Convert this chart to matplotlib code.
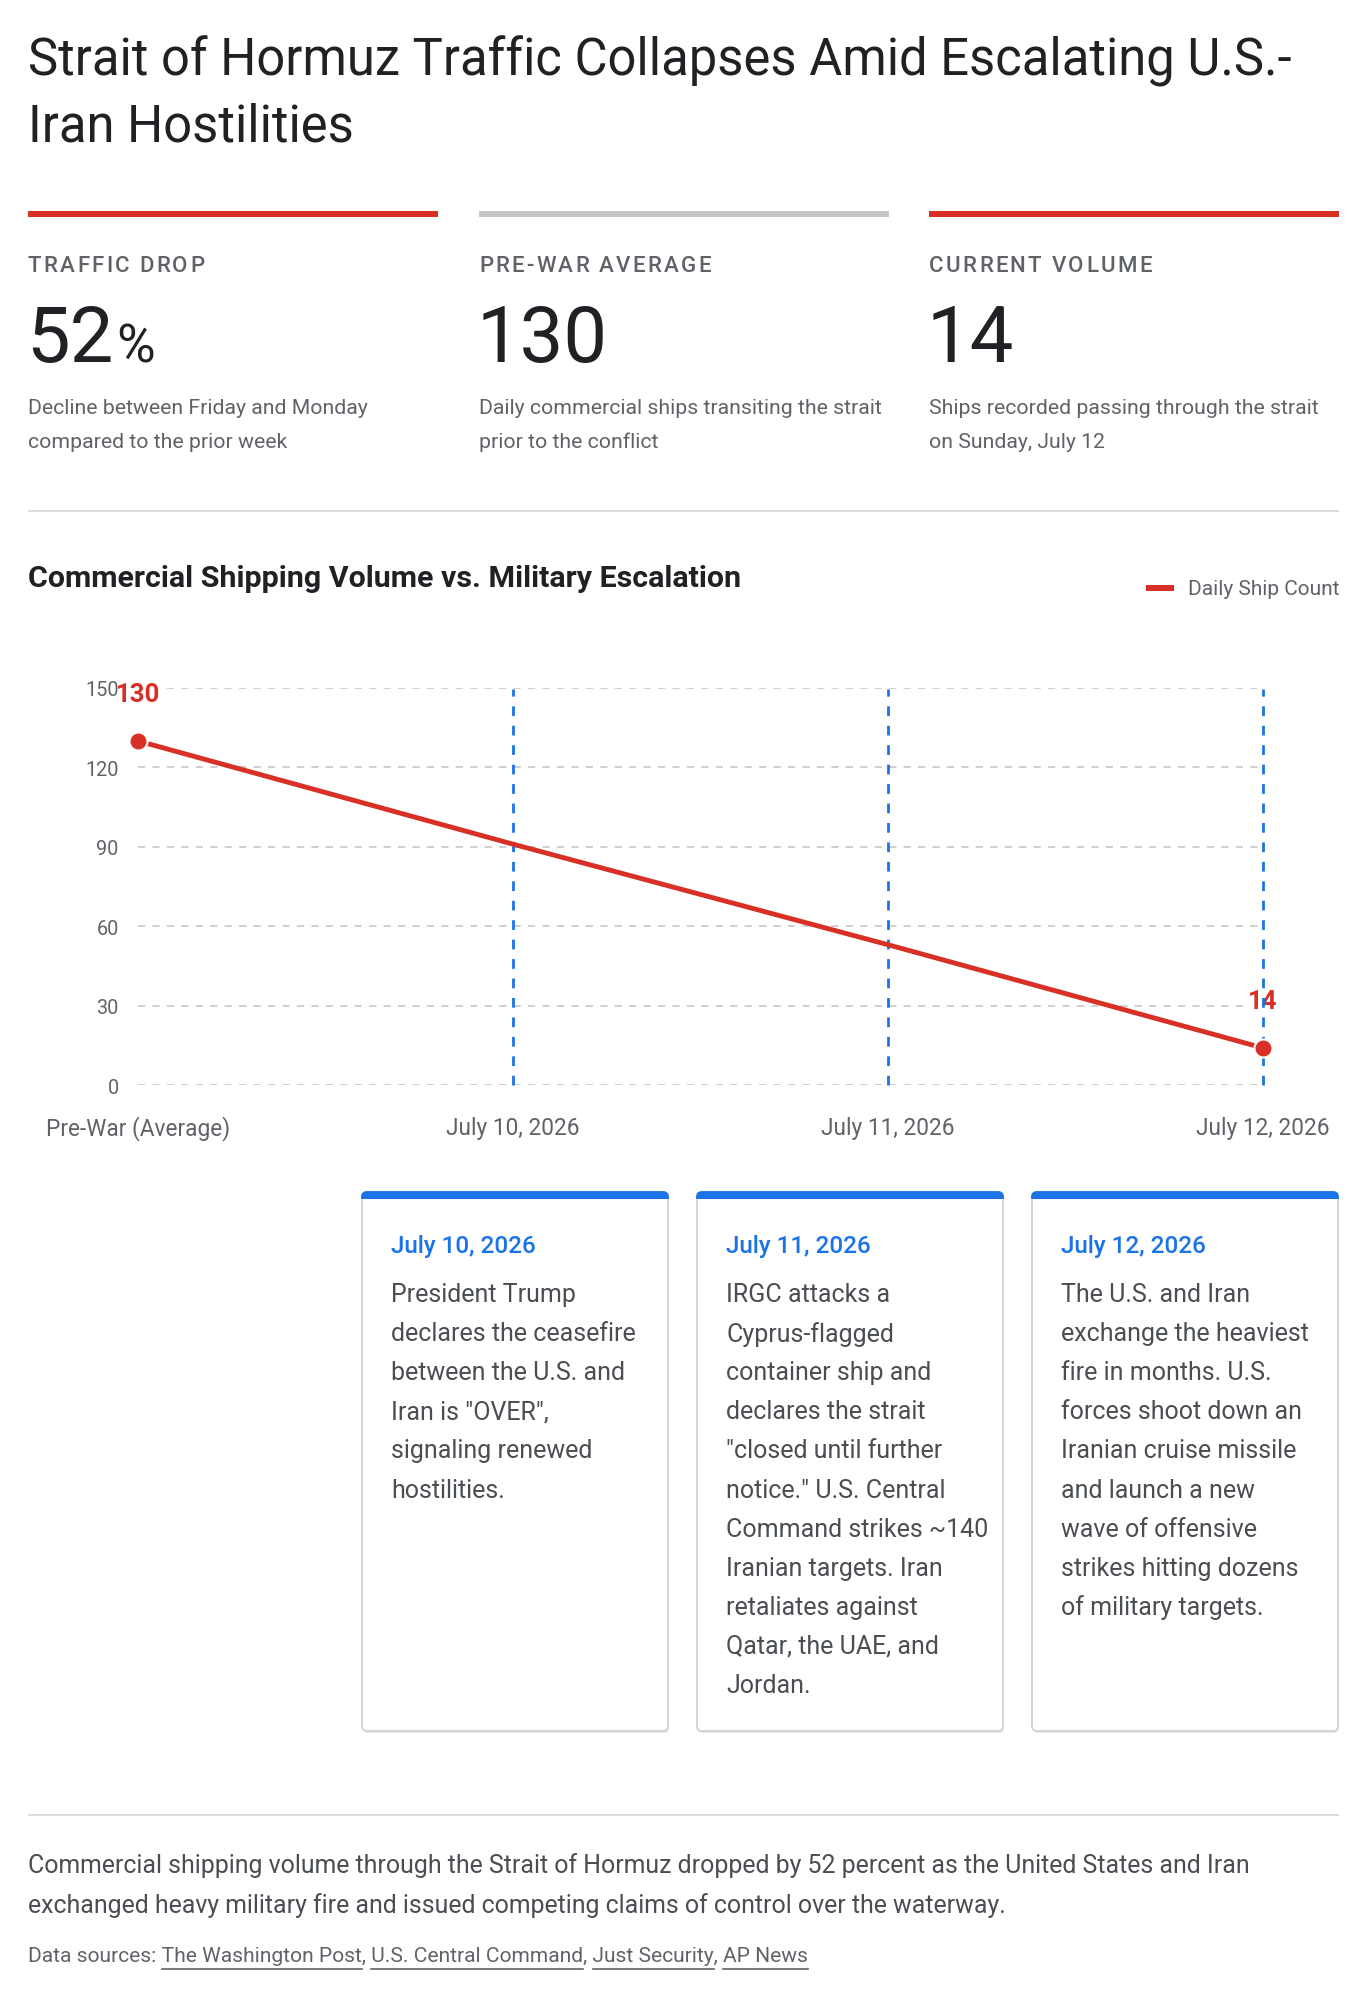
import matplotlib
matplotlib.use("Agg")
import matplotlib.pyplot as plt
from matplotlib.patches import FancyBboxPatch, Rectangle
from matplotlib.lines import Line2D

plt.rcParams['font.family'] = ['Roboto', 'DejaVu Sans']

# ---------------- data ----------------
title_lines = ["Strait of Hormuz Traffic Collapses Amid Escalating U.S.-", "Iran Hostilities"]

kpi_labels = ["TRAFFIC DROP", "PRE-WAR AVERAGE", "CURRENT VOLUME"]
kpi_values = ["52", "130", "14"]
kpi_suffix = ["%", "", ""]
kpi_desc = [["Decline between Friday and Monday", "compared to the prior week"],
            ["Daily commercial ships transiting the strait", "prior to the conflict"],
            ["Ships recorded passing through the strait", "on Sunday, July 12"]]
kpi_bar_colors = ["#d93025", "#c6c6c6", "#d93025"]

chart_title = "Commercial Shipping Volume vs. Military Escalation"
legend_label = "Daily Ship Count"
categories = ["Pre-War (Average)", "July 10, 2026", "July 11, 2026", "July 12, 2026"]
ships = [130, 91, 53, 14]
labelled_points = [0, 3]
event_idx = [1, 2, 3]
y_ticks = [0, 30, 60, 90, 120, 150]

event_dates = ["July 10, 2026", "July 11, 2026", "July 12, 2026"]
event_texts = [
    ["President Trump", "declares the ceasefire", "between the U.S. and",
     'Iran is "OVER",', "signaling renewed", "hostilities."],
    ["IRGC attacks a", "Cyprus-flagged", "container ship and", "declares the strait",
     '"closed until further', 'notice." U.S. Central', "Command strikes ~140",
     "Iranian targets. Iran", "retaliates against", "Qatar, the UAE, and", "Jordan."],
    ["The U.S. and Iran", "exchange the heaviest", "fire in months. U.S.",
     "forces shoot down an", "Iranian cruise missile", "and launch a new",
     "wave of offensive", "strikes hitting dozens", "of military targets."],
]

summary_lines = ["Commercial shipping volume through the Strait of Hormuz dropped by 52 percent as the United States and Iran",
                 "exchanged heavy military fire and issued competing claims of control over the waterway."]
sources_prefix = "Data sources: "
sources = ["The Washington Post", "U.S. Central Command", "Just Security", "AP News"]

# ---------------- style ----------------
RED = "#d93025"
BLUE = "#1a73e8"
DARK = "#202124"
GRAY = "#5f6368"
BODY = "#4a4e52"
RULE = "#dadce0"

W, H = 1372, 1999
fig = plt.figure(figsize=(W / 100, H / 100), dpi=100)
fig.patch.set_facecolor("white")
bg = fig.add_axes([0, 0, 1, 1])
bg.set_xlim(0, W)
bg.set_ylim(H, 0)
bg.axis("off")
R = fig.canvas.get_renderer()


def spaced_text(x, y, s, spacing, **kw):
    for ch in s:
        t = bg.text(x, y, ch, **kw)
        w = t.get_window_extent(R).width
        if ch == " ":
            w = kw.get("fontsize", 12) * 0.25 * 100 / 72
        x += w + spacing


# Title
for i, t in enumerate(title_lines):
    bg.text(28, 61 + i * 66, t, fontsize=36.5, color=DARK, va="center", ha="left")

# KPI blocks
kx = [28, 479, 929]
kw = 410
for i in range(3):
    bg.add_patch(Rectangle((kx[i], 211.5), kw, 6, color=kpi_bar_colors[i], lw=0))
    spaced_text(kx[i], 272, kpi_labels[i], 2.3, fontsize=16, color=GRAY,
                fontweight="medium", va="baseline", ha="left")
    t = bg.text(kx[i] - 2, 362, kpi_values[i], fontsize=56, color=DARK,
                va="baseline", ha="left")
    if kpi_suffix[i]:
        bb = t.get_window_extent(R)
        bg.text(bb.x1 + 3, 362, kpi_suffix[i], fontsize=38, color=DARK,
                va="baseline", ha="left")
    for j, line in enumerate(kpi_desc[i]):
        bg.text(kx[i], 408 + j * 34, line, fontsize=15.3, color=GRAY, va="center", ha="left")

bg.add_patch(Rectangle((28, 510.5), 1311, 2, color=RULE, lw=0))

# Chart title and legend
bg.text(28, 579, chart_title, fontsize=21.9, color=DARK, fontweight="semibold",
        va="center", ha="left")
leg = bg.text(1339, 589, legend_label, fontsize=15, color=GRAY, va="center", ha="right")
lb = leg.get_window_extent(R)
bg.add_patch(Rectangle((lb.x0 - 42, 586), 28, 6, color=RED, lw=0))

# Line chart
x0, x1, ytop, ybot = 138, 1263, 689, 1086
ax = fig.add_axes([x0 / W, 1 - ybot / H, (x1 - x0) / W, (ybot - ytop) / H])
ax.set_facecolor("none")
xs = list(range(len(categories)))
ax.set_xlim(xs[0], xs[-1])
ax.set_ylim(0, 150)
for s in ax.spines.values():
    s.set_visible(False)
ax.set_yticks(y_ticks)
ax.set_yticklabels([str(v) for v in y_ticks])
ax.set_xticks(xs)
ax.set_xticklabels(categories)
ax.tick_params(axis="y", length=0, pad=14, labelsize=14.3, labelcolor=GRAY)
ax.tick_params(axis="x", length=0, pad=22, labelsize=16.3, labelcolor=GRAY)
ax.yaxis.set_zorder(6)
for v in y_ticks:
    ax.axhline(v, color="#cccccc", lw=1.3, dashes=(4, 4), zorder=1)
for i in event_idx:
    ax.plot([xs[i], xs[i]], [0, 149.5], color=BLUE, lw=2, dashes=(3.5, 3.5), zorder=2,
            clip_on=False)
ax.plot(xs, ships, color=RED, lw=3.5, zorder=3, clip_on=False, solid_capstyle="butt")
ax.plot([xs[i] for i in labelled_points], [ships[i] for i in labelled_points], "o",
        color=RED, markersize=13, markeredgecolor="white", markeredgewidth=1.5,
        zorder=4, clip_on=False)
for i in labelled_points:
    ax.annotate(str(ships[i]), (xs[i], ships[i]), xytext=(0, 34), textcoords="offset points",
                ha="center", va="center", fontsize=18.5, fontweight="bold", color=RED,
                zorder=1.2, annotation_clip=False,
                bbox=dict(boxstyle="square,pad=0.05", fc="white", ec="none"))

# Event cards
cx = [362, 697, 1032]
cw = 306
ctop, cbot = 1193, 1732
for i in range(3):
    bg.add_patch(FancyBboxPatch((cx[i] + 1, ctop + 2), cw, cbot - ctop,
                                boxstyle="round,pad=0,rounding_size=5",
                                fc="#e8e8e8", ec="none", zorder=1))
    bg.add_patch(FancyBboxPatch((cx[i], ctop), cw, cbot - ctop,
                                boxstyle="round,pad=0,rounding_size=5",
                                fc="white", ec="#d0d3d6", lw=1.3, zorder=2))
    bar = FancyBboxPatch((cx[i], ctop), cw, 20, boxstyle="round,pad=0,rounding_size=5",
                         fc=BLUE, ec=BLUE, lw=1.3, zorder=3)
    bg.add_patch(bar)
    clip = Rectangle((cx[i] - 3, ctop - 3), cw + 6, 10, transform=bg.transData)
    bar.set_clip_path(clip)
    bg.text(cx[i] + 29, 1246, event_dates[i], fontsize=17.5, color=BLUE, fontweight="medium",
            va="center", ha="left", zorder=4)
    for j, line in enumerate(event_texts[i]):
        bg.text(cx[i] + 29, 1295 + j * 39.1, line, fontsize=18, color=BODY,
                va="center", ha="left", zorder=4)

# Bottom
bg.add_patch(Rectangle((28, 1815), 1311, 2, color=RULE, lw=0))
for j, line in enumerate(summary_lines):
    bg.text(28, 1866 + j * 40, line, fontsize=17.9, color=BODY, va="center", ha="left")

y_src = 1957
fs_src = 15.15
full = sources_prefix + ", ".join(sources)
bg.text(28, y_src, full, fontsize=fs_src, color=GRAY, va="center", ha="left")
prefix = sources_prefix
for k, s in enumerate(sources):
    upto = prefix + s
    tmp = bg.text(28, y_src, upto, fontsize=fs_src, va="center", ha="left")
    tl = bg.text(28, y_src, s, fontsize=fs_src, va="center", ha="left")
    e_end = tmp.get_window_extent(R).x1
    e_w = tl.get_window_extent(R).width
    tmp.remove()
    tl.remove()
    bg.add_line(Line2D([e_end - e_w, e_end], [y_src + 13, y_src + 13], color=GRAY, lw=1.2))
    prefix = upto + ", "

fig.savefig("out.png", dpi=100, facecolor="white")
